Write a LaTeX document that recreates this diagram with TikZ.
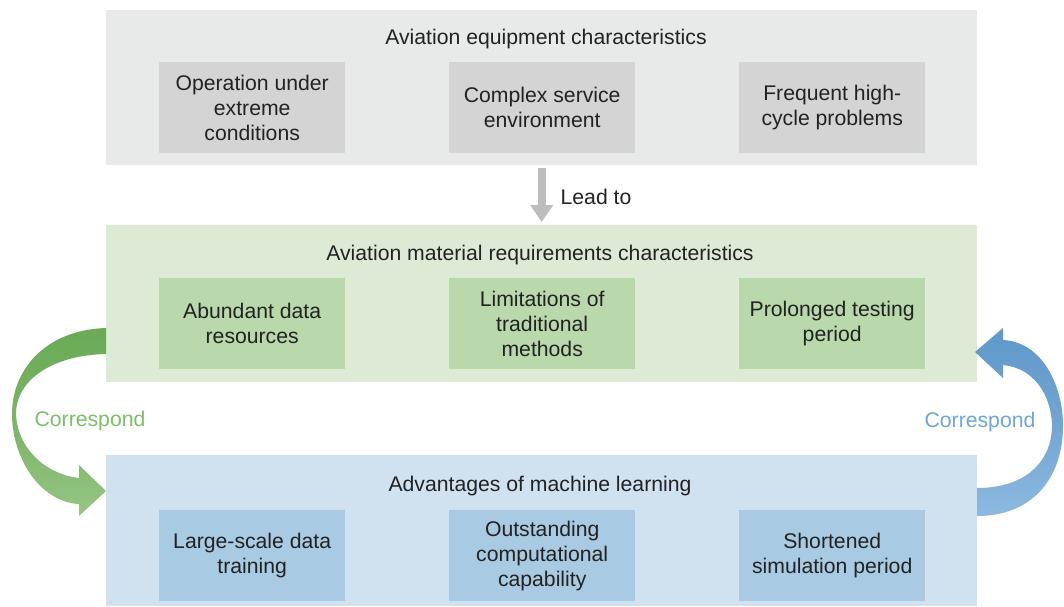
\documentclass[tikz,border=0pt]{standalone}
\usepackage{fontspec}
\setmainfont{Liberation Sans}
\usetikzlibrary{arrows.meta,calc}
\definecolor{grayPanel}{HTML}{E8E9E9}
\definecolor{grayBox}{HTML}{D4D4D4}
\definecolor{greenPanel}{HTML}{DDEBD6}
\definecolor{greenBox}{HTML}{B9D8AB}
\definecolor{bluePanel}{HTML}{D0E1F0}
\definecolor{blueBox}{HTML}{A9CAE3}
\definecolor{txt}{HTML}{222222}
\definecolor{leadArrow}{HTML}{BDBDBD}
\definecolor{greenDark}{HTML}{6AAA55}
\definecolor{greenLight}{HTML}{95C583}
\definecolor{greenText}{HTML}{7CBF66}
\definecolor{blueDark}{HTML}{5F98CB}
\definecolor{blueLight}{HTML}{8DB9DE}
\definecolor{blueText}{HTML}{6EA6D8}
\begin{document}
\begin{tikzpicture}[x=1pt,y=-1pt,
  every node/.style={font=\fontsize{21.2}{25}\selectfont, text=txt, inner sep=0pt},
  panel/.style={draw=none, minimum width=871pt, anchor=north west},
  subbox/.style={draw=none, minimum width=186pt, minimum height=91pt, align=center, anchor=north west},
  label/.style={anchor=center}
]
\useasboundingbox (0,0) rectangle (1064,606);
\fill[white] (0,0) rectangle (1064,606);

% three panels
\node[panel, fill=grayPanel, minimum height=155pt] (top) at (106,10) {};
\node[panel, fill=greenPanel, minimum height=157pt] (mid) at (106,225) {};
\node[panel, fill=bluePanel, minimum height=151pt] (bot) at (106,455) {};

% panel titles
\node[label] (topT) at (546,39) {Aviation equipment characteristics};
\node[label] (midT) at (540,255) {Aviation material requirements characteristics};
\node[label] (botT) at (540,486) {Advantages of machine learning};

% equipment characteristics
\node[subbox, fill=grayBox] (t1) at (159,62) {Operation under\\extreme\\conditions};
\node[subbox, fill=grayBox] (t2) at (449,62) {Complex service\\environment};
\node[subbox, fill=grayBox] (t3) at (739,62) {Frequent high-\\cycle problems};

% material requirements
\node[subbox, fill=greenBox] (m1) at (159,278) {Abundant data\\resources};
\node[subbox, fill=greenBox] (m2) at (449,278) {Limitations of\\traditional\\methods};
\node[subbox, fill=greenBox] (m3) at (739,278) {Prolonged testing\\period};

% machine learning advantages
\node[subbox, fill=blueBox] (b1) at (159,510) {Large-scale data\\training};
\node[subbox, fill=blueBox] (b2) at (449,510) {Outstanding\\computational\\capability};
\node[subbox, fill=blueBox] (b3) at (739,510) {Shortened\\simulation period};

% lead-to arrow between the first two panels
\draw[leadArrow, line width=8pt, -{Triangle[length=17pt,width=22pt]}]
  ([yshift=-3pt]top.south) -- ([yshift=3pt]mid.north);
\node[label] (lead) at (596,197) {Lead to};

% green curved arrow: requirements -> machine learning
\shade[top color=greenDark, bottom color=greenLight, middle color=greenDark!60!greenLight]
  (106,328) .. controls (45,330) and (12,370) .. (12,414)
  .. controls (12,458) and (40,502) .. (79,504)
  -- (79,516) -- (106,491) -- (79,465) -- (79,478)
  .. controls (45,474) and (17,448) .. (16,413)
  .. controls (17,378) and (55,355) .. (106,354) -- cycle;
\node[label, text=greenText] (corrL) at (90,421) {Correspond};

% blue curved arrow: machine learning -> requirements
\shade[top color=blueDark, bottom color=blueLight, middle color=blueDark!60!blueLight]
  (977,516) .. controls (1035,516) and (1063,475) .. (1063,426)
  .. controls (1063,385) and (1042,342) .. (1003,340)
  -- (1003,328) -- (975,352) -- (1003,378) -- (1003,365)
  .. controls (1034,368) and (1051,395) .. (1052,425)
  .. controls (1052,462) and (1025,488) .. (977,488) -- cycle;
\node[label, text=blueText] (corrR) at (980,422) {Correspond};
\end{tikzpicture}
\end{document}
